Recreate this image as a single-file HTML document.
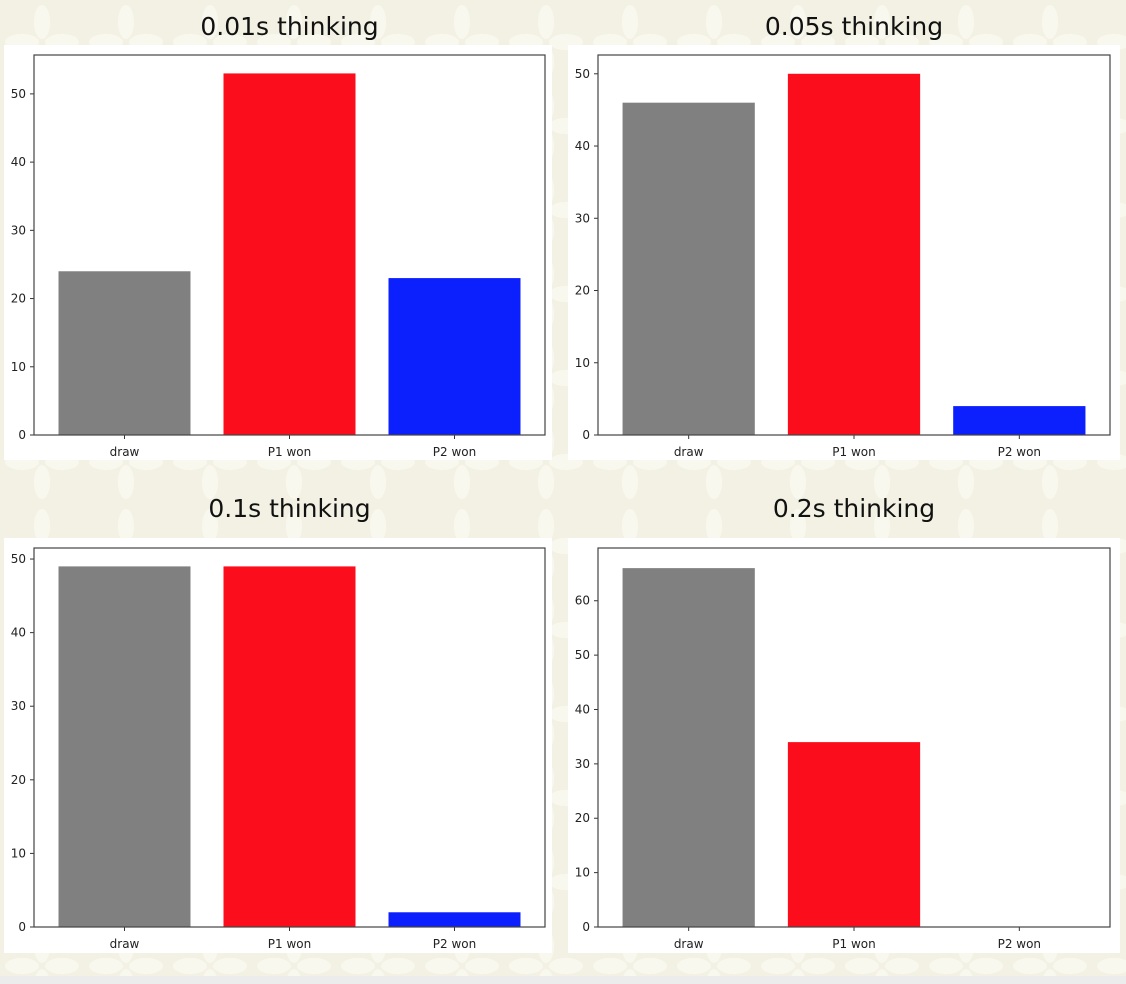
<!DOCTYPE html>
<html><head><meta charset="utf-8"><style>
body{margin:0;width:1126px;height:984px;overflow:hidden;background:#f3f1e3;font-family:"DejaVu Sans","Liberation Sans",sans-serif}
svg{display:block}
.ttl{font-family:"DejaVu Sans","Liberation Sans",sans-serif;font-size:25px;fill:#111}
.tk{font-size:12px;fill:#222}
</style></head><body>
<svg id="c" width="1126" height="984">
<defs><pattern id="pt" width="84" height="84" patternUnits="userSpaceOnUse">
<ellipse cx="42" cy="22" rx="8" ry="17" fill="#f9f8ef"/><ellipse cx="42" cy="62" rx="8" ry="17" fill="#f9f8ef"/>
<ellipse cx="22" cy="42" rx="17" ry="8" fill="#f9f8ef"/><ellipse cx="62" cy="42" rx="17" ry="8" fill="#f9f8ef"/></pattern></defs>
<rect width="1126" height="984" fill="#f3f1e3"/>
<rect width="1126" height="984" fill="url(#pt)"/>
<rect y="976" width="1126" height="8" fill="#ececec"/>
</svg>
<script>
const categories=["draw","P1 won","P2 won"];
const colors=["#808080","#fc0d1b","#0c20fd"];
const titles=["0.01s thinking","0.05s thinking","0.1s thinking","0.2s thinking"];
const valuesA=[24,53,23];
const valuesB=[46,50,4];
const valuesC=[49,49,2];
const valuesD=[66,34,0];
const ticksA=[0,10,20,30,40,50];
const ticksB=[0,10,20,30,40,50];
const ticksC=[0,10,20,30,40,50];
const ticksD=[0,10,20,30,40,50,60];
const ymaxA=55.7, ymaxB=52.6, ymaxC=51.5, ymaxD=69.7;
const svg=document.getElementById('c');
const NS='http://www.w3.org/2000/svg';
function mk(t,a,p){const e=document.createElementNS(NS,t);for(const k in a)e.setAttribute(k,a[k]);(p||svg).appendChild(e);return e;}
function panel(i,x0,y0,w,h,vals,ticks,ymax,wx,wy,ww,wh,ty){
  const g=mk('g',{});
  
  
  const bg=mk('rect',{x:wx,y:wy,width:ww,height:wh,fill:'#fff'},g);
  
  
  const t=mk('text',{x:x0+w/2,y:ty,'text-anchor':'middle',class:'ttl'},g);t.textContent=titles[i];
  
  
  const ys=v=>y0+h-v/ymax*h;
  const n=categories.length;
  const xs=k=>x0+w/2+(k-(n-1)/2)*165/511*w;
  const bw=132/511*w;
  vals.forEach((v,k)=>{
    const r=mk('rect',{x:xs(k)-bw/2,y:ys(v),width:bw,height:ys(0)-ys(v),fill:colors[k]},g);
    
    
    mk('line',{x1:xs(k),x2:xs(k),y1:y0+h,y2:y0+h+4,stroke:'#333'},g);
    const l=mk('text',{x:xs(k),y:y0+h+21,'text-anchor':'middle',class:'tk'},g);l.textContent=categories[k];
    
    
  });
  ticks.forEach(v=>{
    mk('line',{x1:x0-4,x2:x0,y1:ys(v),y2:ys(v),stroke:'#333'},g);
    const l=mk('text',{x:x0-8,y:ys(v)+4,'text-anchor':'end',class:'tk'},g);l.textContent=v;
    
    
  });
  const f=mk('rect',{x:x0,y:y0,width:w,height:h,fill:'none',stroke:'#444','stroke-width':1.2},g);
  
  
}
panel(0,34,55,511,380,valuesA,ticksA,ymaxA,4,45,548,415,35);
panel(1,598,55,512,380,valuesB,ticksB,ymaxB,568,45,552,415,35);
panel(2,34,548,511,379,valuesC,ticksC,ymaxC,4,538,548,415,517);
panel(3,598,548,512,379,valuesD,ticksD,ymaxD,568,538,552,415,517);
</script>
</body></html>
